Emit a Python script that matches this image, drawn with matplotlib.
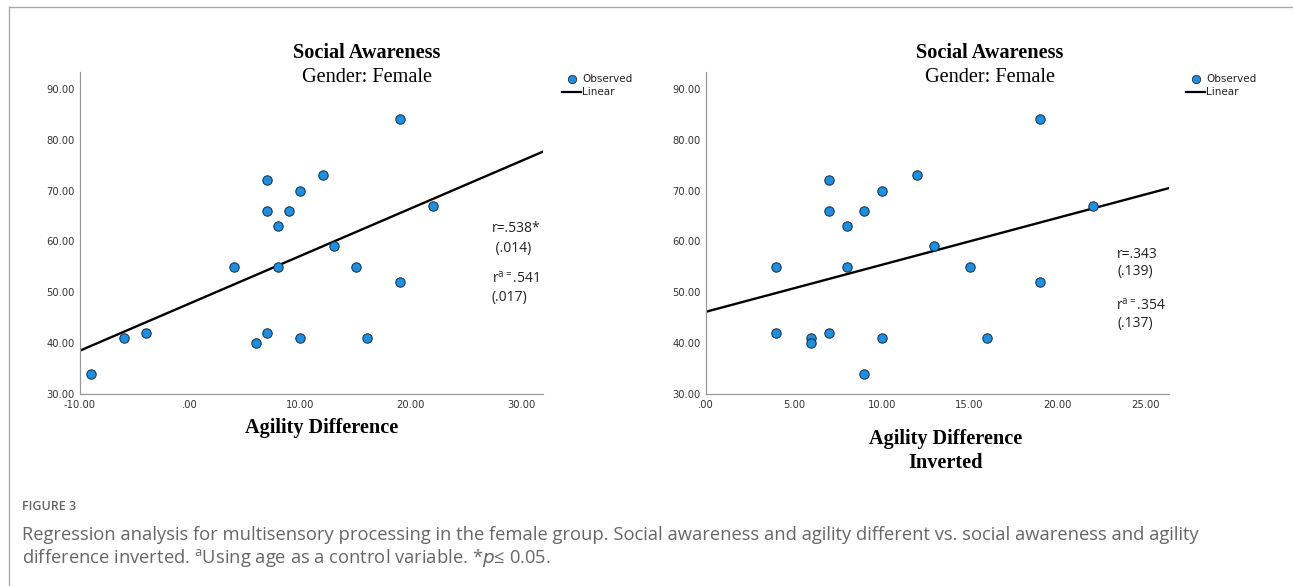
import numpy as np
import matplotlib.pyplot as plt
from matplotlib.ticker import FuncFormatter, MultipleLocator
from matplotlib.lines import Line2D

# data
social_awareness = [34, 41, 42, 55, 40, 42, 72, 66, 63, 55, 66, 70, 41, 73, 59, 55, 41, 84, 52, 67]
agility_diff = [-9, -6, -4, 4, 6, 7, 7, 7, 8, 8, 9, 10, 10, 12, 13, 15, 16, 19, 19, 22]
agility_diff_inv = [9, 6, 4, 4, 6, 7, 7, 7, 8, 8, 9, 10, 10, 12, 13, 15, 16, 19, 19, 22]

stats_left = ["r=.538*", " (.014)", "r$^{\\mathregular{a=}}$.541", "(.017)"]
stats_right = ["r=.343", "(.139)", "r$^{\\mathregular{a=}}$.354", "(.137)"]

W, H = 1293, 586
fig = plt.figure(figsize=(W / 100, H / 100), dpi=100)

dot_color = "#1b8fe3"
serif = "Liberation Serif"


def fx(px):
    return px / W


def fy(py):
    return 1 - py / H


def tick_fmt(v, pos):
    s = f"{v:.2f}"
    if s in ("0.00", "-0.00"):
        return ".00"
    return s


def panel(left_px, right_px, x, xlim, xstep, stats, stats_xy, title_cx, xlabel, xlabel_y, leg_x):
    top_px, bottom_px = 72, 394
    ax = fig.add_axes([fx(left_px), fy(bottom_px), fx(right_px - left_px), (bottom_px - top_px) / H])
    ax.set_xlim(*xlim)
    ax.set_ylim(30, 93.3)

    ax.scatter(x, social_awareness, s=46, color=dot_color, edgecolor="#1a2a3a", linewidth=0.7, zorder=3)
    slope, icpt = np.polyfit(x, social_awareness, 1)
    xx = np.array(xlim)
    ax.plot(xx, icpt + slope * xx, color="black", linewidth=1.7, zorder=2)

    ax.xaxis.set_major_locator(MultipleLocator(xstep))
    ax.yaxis.set_major_locator(MultipleLocator(10))
    ax.xaxis.set_major_formatter(FuncFormatter(tick_fmt))
    ax.yaxis.set_major_formatter(FuncFormatter(tick_fmt))
    ax.tick_params(length=0, labelsize=7.2, labelcolor="#333333", pad=4)
    ax.tick_params(axis="x", pad=4)
    for sp in ["top", "right"]:
        ax.spines[sp].set_visible(False)
    for sp in ["left", "bottom"]:
        ax.spines[sp].set_color("#999999")
        ax.spines[sp].set_linewidth(0.9)

    fig.text(fx(title_cx), fy(53), "Social Awareness", family=serif, fontweight="bold",
             fontsize=14.6, ha="center", va="center")
    fig.text(fx(title_cx), fy(78), "Gender: Female", family=serif,
             fontsize=14.6, ha="center", va="center")

    lx, ly = xlabel
    fig.text(fx(lx), fy(xlabel_y), ly, family=serif, fontweight="bold",
             fontsize=14.6, ha="center", va="top", linespacing=1.25)

    for (tx, ty), s in zip(stats_xy, stats):
        fig.text(fx(tx), fy(ty), s, fontsize=10, family="Open Sans", ha="left", va="center",
                 color="#222222")

    # legend drawn in figure coordinates
    fig.add_artist(Line2D([fx(leg_x + 6)], [fy(79)], marker="o", markersize=6,
                          markerfacecolor=dot_color, markeredgecolor="#1a2a3a", markeredgewidth=0.6))
    fig.add_artist(Line2D([fx(leg_x - 4), fx(leg_x + 15)], [fy(92), fy(92)], color="black", linewidth=1.6))
    fig.text(fx(leg_x + 16), fy(79), "Observed", fontsize=7.5, ha="left", va="center", color="#222222")
    fig.text(fx(leg_x + 16), fy(92), "Linear", fontsize=7.5, ha="left", va="center", color="#222222")
    return ax


panel(80, 543, agility_diff, (-10, 32.0), 10, stats_left,
      [(492, 229), (492, 248), (492, 279), (492, 297)],
      367, (322, "Agility Difference"), 418, 566)

panel(706, 1169, agility_diff_inv, (0, 26.35), 5, stats_right,
      [(1117, 254), (1117, 272), (1116, 306), (1117, 324)],
      990, (946, "Agility Difference\nInverted"), 429, 1190)

# frame and caption
fig.add_artist(Line2D([fx(9), fx(9)], [fy(7), 0], color="#aaaaaa", linewidth=1))
fig.add_artist(Line2D([fx(9), 1], [fy(7), fy(7)], color="#aaaaaa", linewidth=1))

fig.text(fx(22), fy(507), "FIGURE 3", fontsize=9, family="Open Sans", fontweight="semibold",
         color="#666666", va="center")
fig.text(fx(22), fy(535),
         "Regression analysis for multisensory processing in the female group. Social awareness and agility "
         "different vs. social awareness and agility",
         fontsize=13.2, family="Open Sans", color="#666666", va="center")
fig.text(fx(22), fy(558),
         "difference inverted. $^{\\mathregular{a}}$Using age as a control variable. *$\\it{p}$\u2264 0.05.",
         fontsize=13.2, family="Open Sans", color="#666666", va="center")

fig.savefig("out.png", dpi=100)
